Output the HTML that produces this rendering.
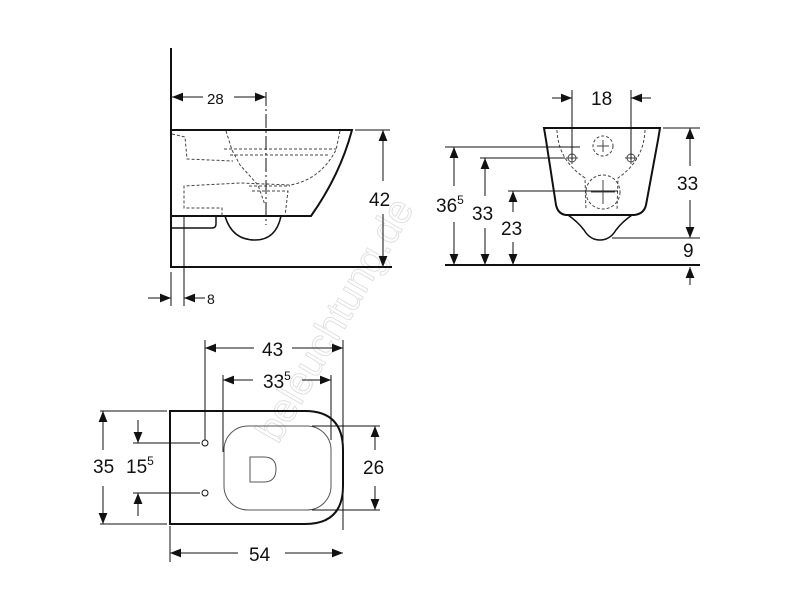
<!DOCTYPE html>
<html><head><style>body{margin:0;background:#fff}svg{display:block}text{font-family:"Liberation Sans",Arial,sans-serif;fill:#111}</style></head><body>
<svg width="800" height="600" viewBox="0 0 800 600" xmlns="http://www.w3.org/2000/svg">
<defs>
<marker id="a" viewBox="0 0 10 10" refX="10" refY="5" markerWidth="11" markerHeight="11" orient="auto-start-reverse" markerUnits="userSpaceOnUse"><path d="M0,1 L10,5 L0,9Z" fill="#111"/></marker>
</defs>
<text x="0" y="0" font-size="40" style="fill:none;stroke:#000;stroke-width:1;opacity:0.12" transform="translate(278,445) rotate(-60)">beleuchtung.de</text>
<g stroke="#111" fill="none" stroke-width="1">
<line x1="171" y1="48" x2="171" y2="268" stroke-width="2"/>
<line x1="171" y1="267" x2="392" y2="267" stroke-width="2"/>
<path d="M171,130 L352,130 Q340,175 311,216 L171,216" stroke-width="2"/>
<path d="M171,228 L212,228 Q216,228 216,224 L216,216" stroke-width="1.5"/>
<path d="M225,216 Q232,240 255,240 Q276,240 281,216" stroke-width="1.5"/>
<g stroke-dasharray="3,2" stroke="#444">
<path d="M172,134 L185,137 L187,159 L233,161"/>
<path d="M226,131 L232,150 L240,165 L258,185 L265,205"/>
<path d="M340,131 L336,150 Q320,180 290,185 L240,183 L184,186 L184,208 L222,208 L222,216"/>
<path d="M224,149 L336,149 M230,155 L330,155"/>
<path d="M249,186 L290,186 M252,191 L288,191 L285,216"/>
</g>
<line x1="266" y1="92" x2="266" y2="225" stroke-dasharray="14,3,2,3"/>
<line x1="172" y1="97" x2="203" y2="97" marker-start="url(#a)"/>
<line x1="234" y1="97" x2="266" y2="97" marker-end="url(#a)"/>
<line x1="355" y1="130" x2="390" y2="130"/>
<line x1="383" y1="130" x2="383" y2="181" marker-start="url(#a)"/>
<line x1="383" y1="214" x2="383" y2="267" marker-end="url(#a)"/>
<line x1="171" y1="272" x2="171" y2="306"/>
<line x1="184" y1="216" x2="184" y2="306"/>
<line x1="148" y1="298" x2="171" y2="298" marker-end="url(#a)"/>
<line x1="205" y1="298" x2="184" y2="298" marker-end="url(#a)"/>
<path d="M544,128 L660,128 L658,140 L646,205 Q644,214 634,215 L566,215 Q558,214 556,205 L546,140 Z" stroke-width="2"/>
<path d="M568,215 Q578,222 584,230 Q590,240 600,240 Q610,240 616,230 Q622,222 632,215" stroke-width="1.5"/>
<g stroke-dasharray="3,2" stroke="#444">
<path d="M557,130 Q558,160 585,178 L586,210 M645,130 Q644,160 618,178 L617,210"/>
<circle cx="603" cy="146" r="10"/><circle cx="603" cy="192" r="17"/>
</g>
<g stroke="#444"><path d="M566,158h12M572,152v12M625,158h12M631,152v12M597,146h12M603,140v12M591,192h24M603,180v24"/>
<circle cx="572" cy="158" r="4"/><circle cx="631" cy="158" r="4"/></g>
<line x1="572" y1="90" x2="572" y2="160"/><line x1="631" y1="90" x2="631" y2="160"/>
<line x1="552" y1="98" x2="572" y2="98" marker-end="url(#a)"/>
<line x1="651" y1="98" x2="631" y2="98" marker-end="url(#a)"/>
<line x1="445" y1="265" x2="700" y2="265" stroke-width="2"/>
<line x1="445" y1="147" x2="580" y2="147"/>
<line x1="480" y1="158" x2="565" y2="158"/>
<line x1="508" y1="191" x2="618" y2="191"/>
<line x1="454" y1="147" x2="454" y2="186" marker-start="url(#a)"/>
<line x1="454" y1="222" x2="454" y2="265" marker-end="url(#a)"/>
<line x1="485" y1="158" x2="485" y2="196" marker-start="url(#a)"/>
<line x1="485" y1="228" x2="485" y2="265" marker-end="url(#a)"/>
<line x1="513" y1="191" x2="513" y2="212" marker-start="url(#a)"/>
<line x1="513" y1="242" x2="513" y2="265" marker-end="url(#a)"/>
<line x1="663" y1="128" x2="700" y2="128"/>
<line x1="612" y1="238" x2="700" y2="238"/>
<line x1="690" y1="128" x2="690" y2="166" marker-start="url(#a)"/>
<line x1="690" y1="200" x2="690" y2="238" marker-end="url(#a)"/>
<line x1="690" y1="285" x2="690" y2="267" marker-end="url(#a)"/>
<path d="M170,411 L305,411 Q343,411 343,450 L343,486 Q343,524 305,524 L170,524 Z" stroke-width="2"/>
<rect x="224" y="426" width="107" height="84" rx="24" stroke="#555"/>
<path d="M250,457 L264,457 Q276,457 276,469 Q276,482 264,482 L250,482 Z" stroke="#555"/>
<circle cx="205" cy="443" r="3"/><circle cx="205" cy="493" r="3"/>
<line x1="205" y1="340" x2="205" y2="440"/><line x1="343" y1="340" x2="343" y2="530"/>
<line x1="205" y1="348" x2="254" y2="348" marker-start="url(#a)"/>
<line x1="292" y1="348" x2="343" y2="348" marker-end="url(#a)"/>
<line x1="223" y1="375" x2="223" y2="452"/><line x1="331" y1="375" x2="331" y2="440"/>
<line x1="223" y1="380" x2="253" y2="380" marker-start="url(#a)"/>
<line x1="302" y1="380" x2="331" y2="380" marker-end="url(#a)"/>
<line x1="100" y1="411" x2="167" y2="411"/><line x1="100" y1="524" x2="167" y2="524"/>
<line x1="103" y1="411" x2="103" y2="450" marker-start="url(#a)"/>
<line x1="103" y1="486" x2="103" y2="524" marker-end="url(#a)"/>
<line x1="133" y1="443" x2="200" y2="443"/><line x1="133" y1="493" x2="200" y2="493"/>
<line x1="138" y1="420" x2="138" y2="443" marker-end="url(#a)"/>
<line x1="138" y1="516" x2="138" y2="493" marker-end="url(#a)"/>
<line x1="312" y1="426" x2="380" y2="426"/><line x1="312" y1="510" x2="380" y2="510"/>
<line x1="375" y1="426" x2="375" y2="450" marker-start="url(#a)"/>
<line x1="375" y1="486" x2="375" y2="510" marker-end="url(#a)"/>
<line x1="170" y1="526" x2="170" y2="562"/>
<line x1="170" y1="553" x2="238" y2="553" marker-start="url(#a)"/>
<line x1="285" y1="553" x2="343" y2="553" marker-end="url(#a)"/>
</g>
<g font-size="19">
<text x="207" y="104" font-size="15">28</text>
<text x="369" y="206">42</text>
<text x="207" y="304" font-size="14">8</text>
<text x="591" y="105">18</text>
<text x="436" y="212">36<tspan font-size="12" dy="-8">5</tspan></text>
<text x="472" y="220">33</text>
<text x="501" y="235">23</text>
<text x="677" y="190">33</text>
<text x="683" y="257">9</text>
<text x="262" y="356">43</text>
<text x="263" y="388">33<tspan font-size="12" dy="-8">5</tspan></text>
<text x="93" y="473">35</text>
<text x="126" y="473">15<tspan font-size="12" dy="-8">5</tspan></text>
<text x="363" y="474">26</text>
<text x="249" y="561">54</text>
</g>
</svg>
</body></html>
